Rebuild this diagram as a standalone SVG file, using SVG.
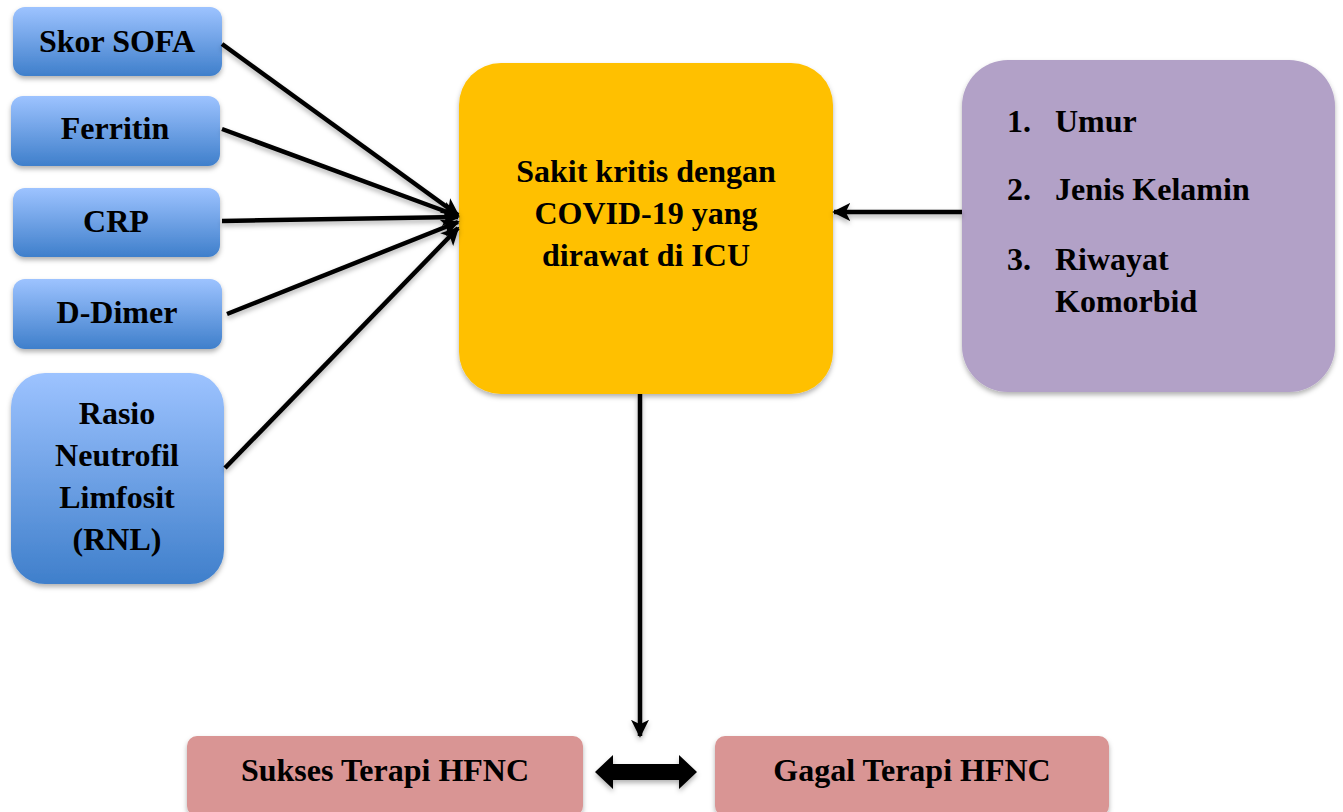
<svg xmlns="http://www.w3.org/2000/svg" width="1343" height="812" viewBox="0 0 1343 812">
<defs>
<linearGradient id="blue" x1="0" y1="0" x2="0" y2="1">
<stop offset="0" stop-color="#9DC3FF"/>
<stop offset="1" stop-color="#3F7FCB"/>
</linearGradient>
<filter id="sh" x="-10%" y="-10%" width="120%" height="130%">
<feDropShadow dx="0" dy="3" stdDeviation="2.5" flood-color="#000" flood-opacity="0.3"/>
</filter>
<marker id="ah" viewBox="0 0 10 10" refX="9" refY="5" markerWidth="4" markerHeight="4" markerUnits="strokeWidth" orient="auto">
<path d="M0,0 L10,5 L0,10 L2.5,5 z" fill="#000"/>
</marker>
</defs>
<style>
.b{fill:url(#blue);filter:url(#sh)}
.t{font-family:"Liberation Serif","Times New Roman",serif;font-weight:bold;font-size:32px;fill:#000;text-anchor:middle}
.tl{font-family:"Liberation Serif","Times New Roman",serif;font-weight:bold;font-size:32px;fill:#000}
.c{stroke:#000;stroke-width:4.5;fill:none;marker-end:url(#ah)}
</style>
<rect width="1343" height="812" fill="#fff"/>
<g id="skor-sofa"><rect class="b" x="13" y="7" width="209" height="69" rx="12"/><text class="t" x="117" y="52">Skor SOFA</text></g>
<g id="ferritin"><rect class="b" x="11" y="96" width="209" height="70" rx="12"/><text class="t" x="115" y="139">Ferritin</text></g>
<g id="crp"><rect class="b" x="13" y="188" width="207" height="69" rx="12"/><text class="t" x="116" y="232">CRP</text></g>
<g id="d-dimer"><rect class="b" x="13" y="279" width="209" height="70" rx="12"/><text class="t" x="117" y="323">D-Dimer</text></g>
<g id="rnl"><rect class="b" x="11" y="373" width="213" height="211" rx="34"/>
<text class="t" x="117" y="424">Rasio</text><text class="t" x="117" y="466">Neutrofil</text><text class="t" x="117" y="508">Limfosit</text><text class="t" x="117" y="550">(RNL)</text></g>
<g id="center"><rect x="459" y="63" width="374" height="331" rx="42" fill="#FFC000" filter="url(#sh)"/>
<text class="t" x="646" y="182">Sakit kritis dengan</text><text class="t" x="646" y="224">COVID-19 yang</text><text class="t" x="646" y="266">dirawat di ICU</text></g>
<g id="faktor"><rect x="962" y="60" width="373" height="332" rx="46" fill="#B2A1C7" filter="url(#sh)"/>
<text class="tl" x="1007" y="132">1.</text><text class="tl" x="1055" y="132">Umur</text>
<text class="tl" x="1007" y="200">2.</text><text class="tl" x="1055" y="200">Jenis Kelamin</text>
<text class="tl" x="1007" y="270">3.</text><text class="tl" x="1055" y="270">Riwayat</text>
<text class="tl" x="1055" y="312">Komorbid</text></g>
<g id="sukses"><rect x="187" y="736" width="396" height="80" rx="10" fill="#D99594" filter="url(#sh)"/><text class="t" x="385" y="781">Sukses Terapi HFNC</text></g>
<g id="gagal"><rect x="715" y="736" width="394" height="80" rx="10" fill="#D99594" filter="url(#sh)"/><text class="t" x="912" y="781">Gagal Terapi HFNC</text></g>
<g id="connectors" filter="url(#sh)">
<line class="c" x1="222" y1="44" x2="458" y2="215"/>
<line class="c" x1="222" y1="129" x2="458" y2="216"/>
<line class="c" x1="222" y1="221" x2="458" y2="217"/>
<line class="c" x1="227" y1="314" x2="458" y2="222"/>
<line class="c" x1="225" y1="468" x2="458" y2="228"/>
<line class="c" x1="962" y1="212" x2="834" y2="212"/>
<line class="c" x1="640" y1="394" x2="640" y2="736"/>
<path d="M595,772 L613,755 L613,764 L679,764 L679,755 L697,772 L679,789 L679,780 L613,780 L613,789 z" fill="#000"/>
</g>
</svg>
